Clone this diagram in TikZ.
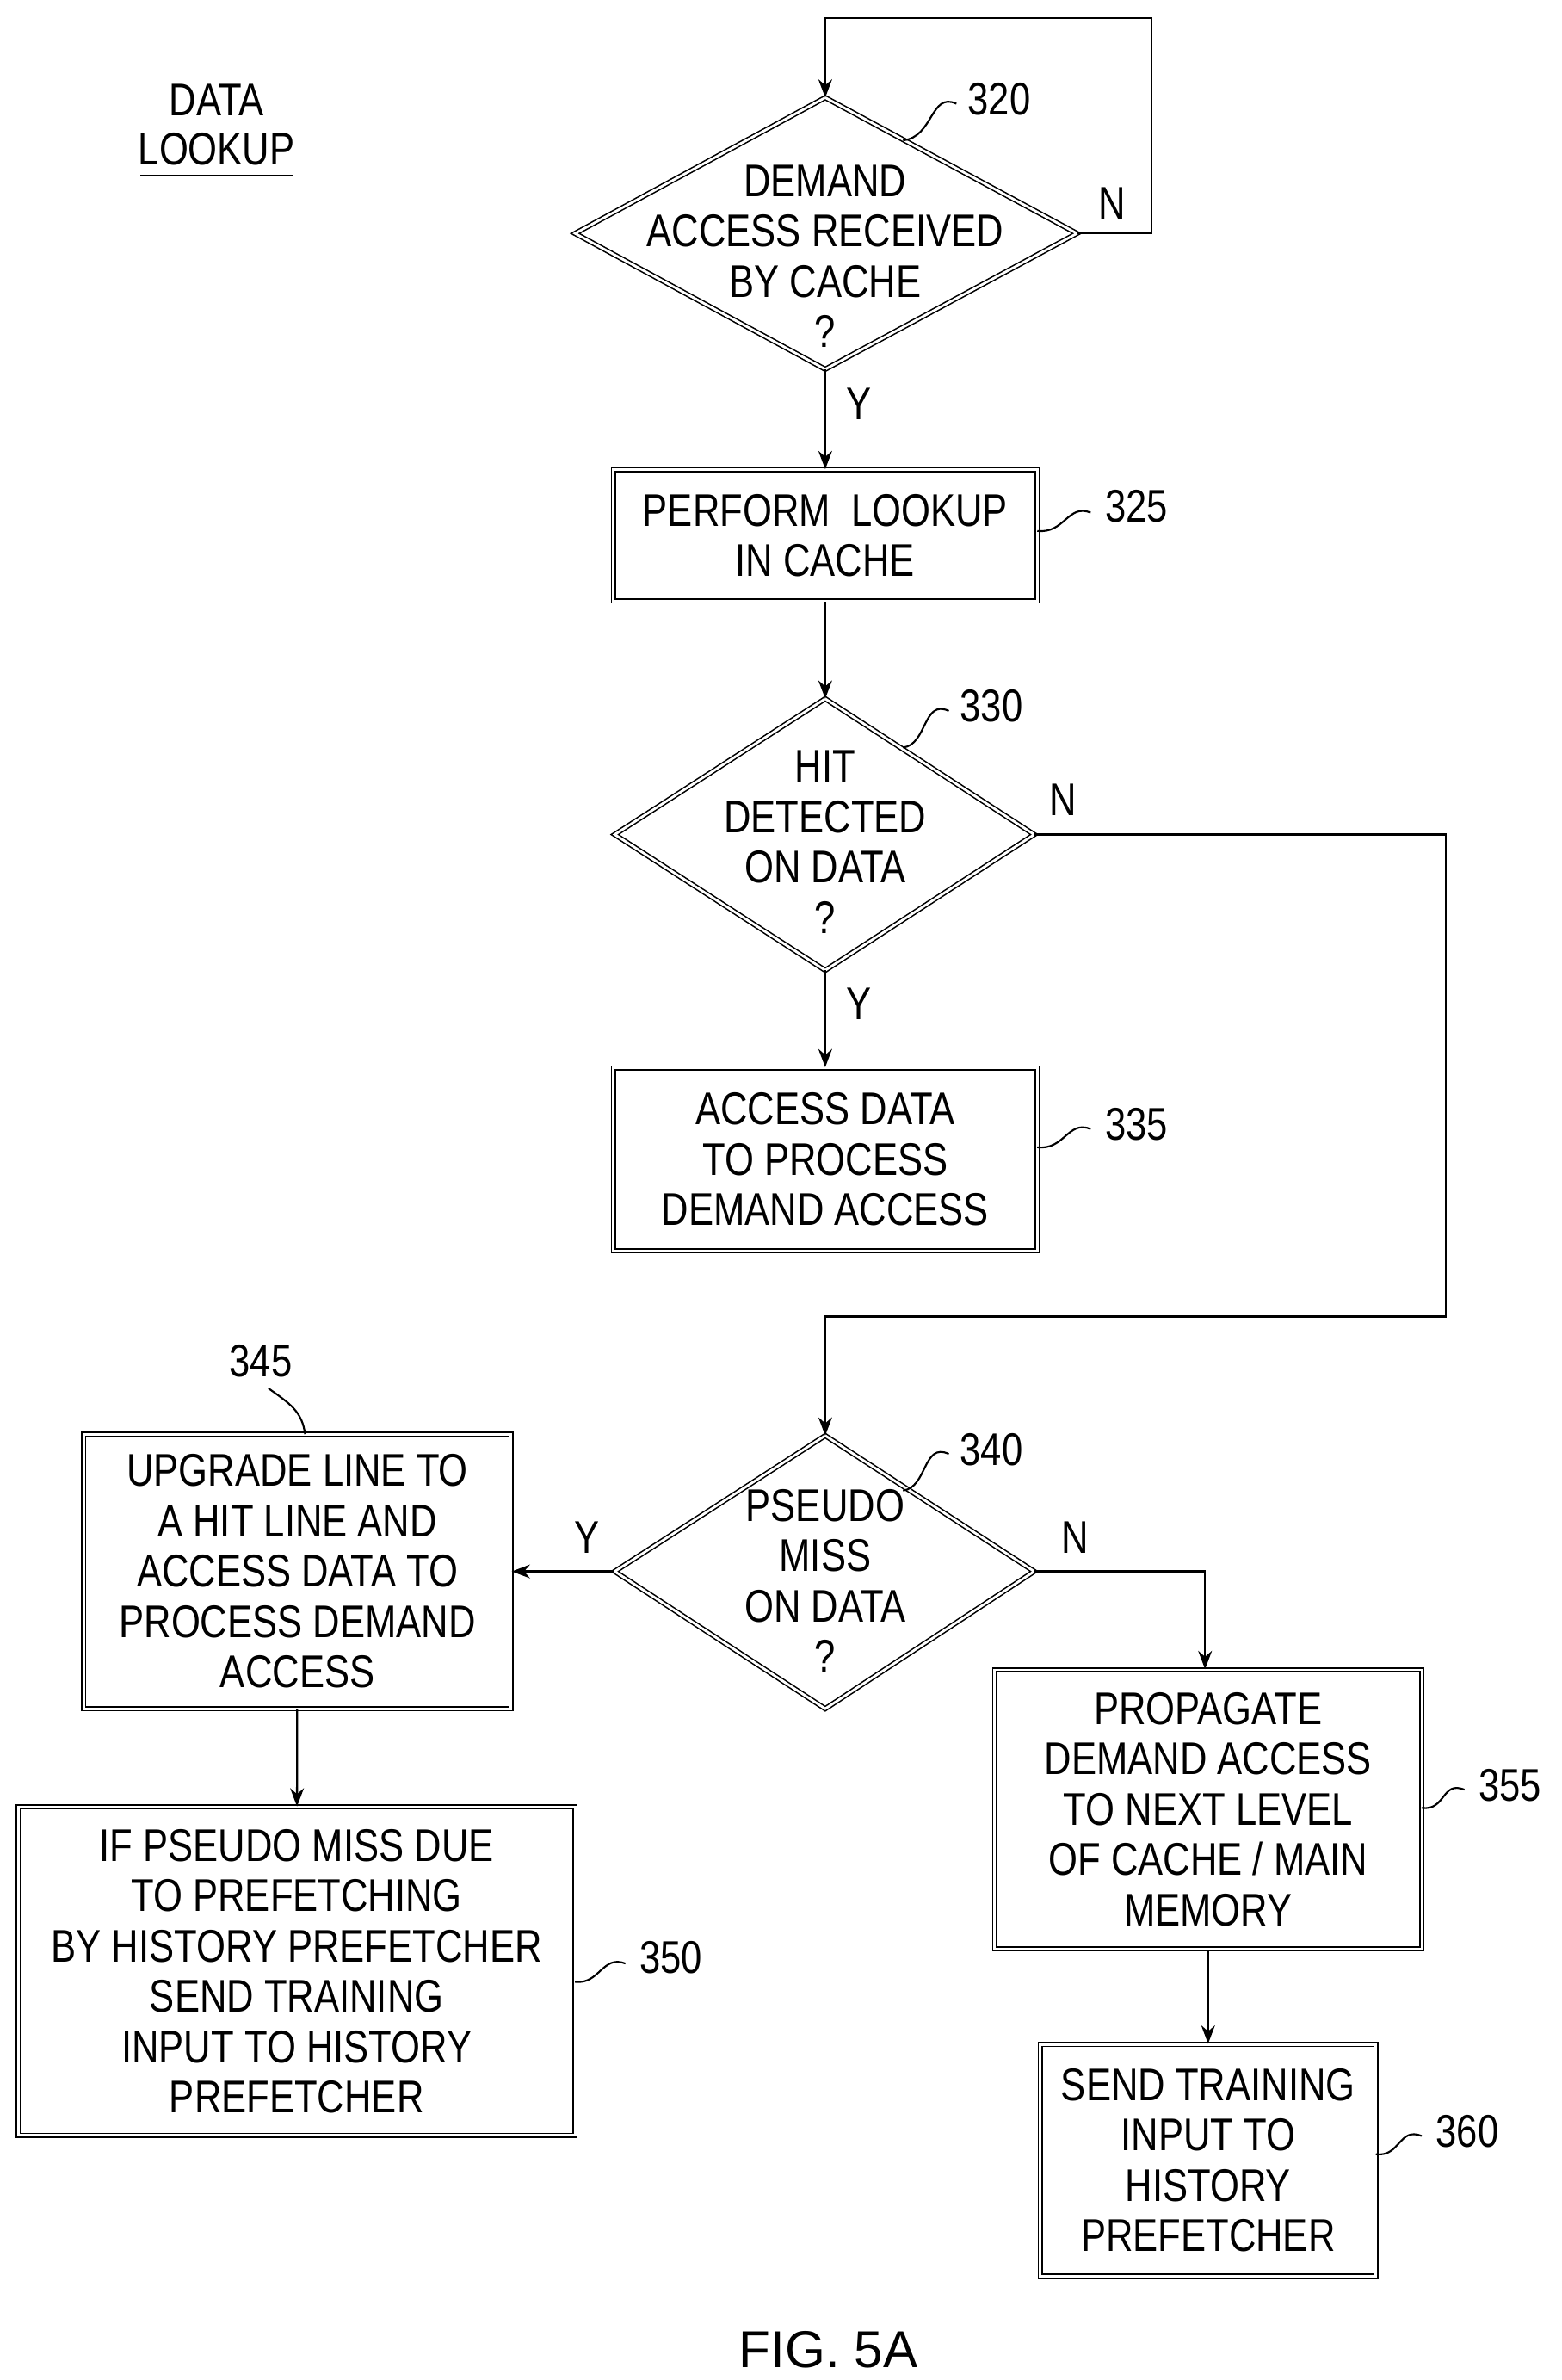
\documentclass[tikz,border=0pt]{standalone}
\usepackage{fontspec}
\setmainfont{Liberation Sans}[FakeStretch=0.82]
\newfontfamily\figfont{Liberation Sans}
\usetikzlibrary{arrows.meta,shapes.geometric}
\begin{document}
\begin{tikzpicture}[x=1pt,y=-1pt,
  txt/.style={font=\fontsize{30}{33}\selectfont,align=center,inner sep=0},
  box/.style={draw,double,double distance=1.6pt,line width=0.9pt},
  ln/.style={line width=1.3pt},
  ar/.style={ln,-{Stealth[length=12pt,width=9pt]}},
  lead/.style={line width=1.2pt}]
\useasboundingbox (0,0) rectangle (1024,1560);
% diamonds
\draw[box] (377,153) -- (541,64) -- (706,153) -- (541,242) -- cycle;
\node[txt] (d320) at (541,168) {DEMAND\\ACCESS RECEIVED\\BY CACHE\\?};
\coordinate (d320t) at (541,64); \coordinate (d320r) at (706,153); \coordinate (d320b) at (541,242);
\draw[box] (403,547) -- (541,458) -- (678,547) -- (541,636) -- cycle;
\node[txt] (d330) at (541,552) {HIT\\DETECTED\\ON DATA\\?};
\coordinate (d330t) at (541,458); \coordinate (d330r) at (678,547); \coordinate (d330b) at (541,636);
\draw[box] (403,1030) -- (541,941) -- (678,1030) -- (541,1120) -- cycle;
\node[txt] (d340) at (541,1036) {PSEUDO\\MISS\\ON DATA\\?};
\coordinate (d340t) at (541,941); \coordinate (d340r) at (678,1030); \coordinate (d340l) at (403,1030);
% boxes
\node[box,txt,minimum width=278pt,minimum height=86pt] (b325) at (541,351) {PERFORM\ \ LOOKUP\\IN CACHE};
\node[box,txt,minimum width=278pt,minimum height=120pt] (b335) at (541,760) {ACCESS DATA\\TO PROCESS\\DEMAND ACCESS};
\node[box,txt,minimum width=280pt,minimum height=180pt] (b345) at (195,1030) {UPGRADE LINE TO\\A HIT LINE AND\\ACCESS DATA TO\\PROCESS DEMAND\\ACCESS};
\node[box,txt,minimum width=365pt,minimum height=215pt] (b350) at (194.5,1292) {IF PSEUDO MISS DUE\\TO PREFETCHING\\BY HISTORY PREFETCHER\\SEND TRAINING\\INPUT TO HISTORY\\PREFETCHER};
\node[box,txt,minimum width=280pt,minimum height=183pt] (b355) at (792,1186) {PROPAGATE\\DEMAND ACCESS\\TO NEXT LEVEL\\OF CACHE / MAIN\\MEMORY};
\node[box,txt,minimum width=220pt,minimum height=152pt] (b360) at (792,1416) {SEND TRAINING\\INPUT TO\\HISTORY\\PREFETCHER};
% connectors
\coordinate (c1) at (755,153); \coordinate (c2) at (755,12); \coordinate (c3) at (541,12);
\draw[ar] (d320r) -- (c1) -- (c2) -- (c3) -- (d320t);
\draw[ar] (d320b) -- (b325);
\draw[ar] (b325) -- (d330t);
\draw[ar] (d330b) -- (b335);
\coordinate (c4) at (948,547); \coordinate (c5) at (948,863); \coordinate (c6) at (541,863);
\draw[ar] (d330r) -- (c4) -- (c5) -- (c6) -- (d340t);
\draw[ar] (d340l) -- (b345.east);
\coordinate (c7) at (790,1030);
\draw[ar] (d340r) -- (c7) -- (b355.north -| c7);
\draw[ar] (b345) -- (b350);
\draw[ar] (b355) -- (b360);
% labels
\node[txt] (lY1) at (563,265) {Y};
\node[txt] (lN1) at (729,133) {N};
\node[txt] (lN2) at (697,524) {N};
\node[txt] (lY2) at (563,658) {Y};
\node[txt] (lY3) at (385,1008) {Y};
\node[txt] (lN3) at (705,1008) {N};
\node[txt,anchor=north] (t1) at (142,55) {DATA};
\node[txt,anchor=north] (t2) at (142,87) {LOOKUP};
\draw[line width=1pt] (92,115) -- (192,115);
% reference numerals
\node[txt] (n320) at (655,65) {320};
\draw[lead] (627,68) .. controls (610,60) and (612,90) .. (592,92);
\node[txt] (n325) at (745,332) {325};
\draw[lead] (715,336) .. controls (700,330) and (698,350) .. (680,348);
\node[txt] (n330) at (650,463) {330};
\draw[lead] (622,466) .. controls (605,458) and (608,488) .. (592,490);
\node[txt] (n335) at (745,737) {335};
\draw[lead] (715,740) .. controls (700,734) and (698,754) .. (680,752);
\node[txt] (n340) at (650,950) {340};
\draw[lead] (622,953) .. controls (605,945) and (608,975) .. (592,977);
\node[txt] (n345) at (171,892) {345};
\draw[lead] (176,910) .. controls (190,920) and (198,925) .. (200,940);
\node[txt] (n350) at (440,1283) {350};
\draw[lead] (410,1287) .. controls (395,1281) and (393,1301) .. (377,1299);
\node[txt] (n355) at (990,1170) {355};
\draw[lead] (960,1173) .. controls (945,1167) and (948,1187) .. (932,1185);
\node[txt] (n360) at (962,1397) {360};
\draw[lead] (932,1400) .. controls (917,1394) and (918,1414) .. (902,1412);
\node[inner sep=0,font=\figfont\fontsize{34}{36}\selectfont] (fig) at (543,1540) {FIG. 5A};
\end{tikzpicture}
\end{document}
